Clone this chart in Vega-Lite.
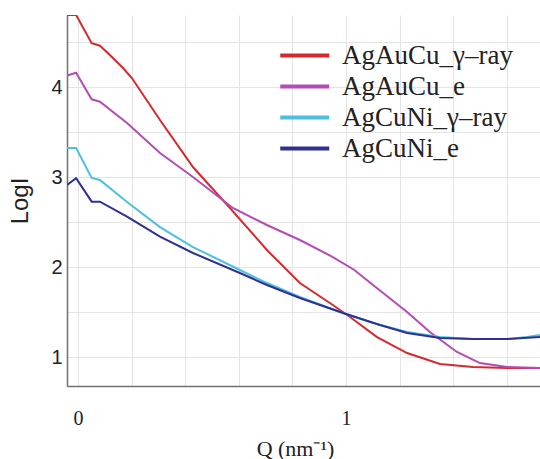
{
  "$schema": "https://vega.github.io/schema/vega-lite/v6.json",
  "width": 473,
  "height": 371,
  "autosize": "none",
  "padding": {"left": 67, "top": 15, "right": 0, "bottom": 73},
  "background": "white",
  "config": {
    "view": {"stroke": null},
    "axis": {"gridColor": "#e4e4e4", "gridWidth": 1, "domainColor": "#707070", "domainWidth": 1.5, "ticks": false, "labelColor": "#222", "titleColor": "#222", "labelOverlap": false, "labelFlush": false}
  },
  "data": {"values": [
    {"s": "AgAuCu_γ–ray", "q": -0.041, "v": 4.80},
    {"s": "AgAuCu_γ–ray", "q": -0.007, "v": 4.80},
    {"s": "AgAuCu_γ–ray", "q": 0.051, "v": 4.486},
    {"s": "AgAuCu_γ–ray", "q": 0.082, "v": 4.459},
    {"s": "AgAuCu_γ–ray", "q": 0.119, "v": 4.356},
    {"s": "AgAuCu_γ–ray", "q": 0.168, "v": 4.211},
    {"s": "AgAuCu_γ–ray", "q": 0.201, "v": 4.10},
    {"s": "AgAuCu_γ–ray", "q": 0.306, "v": 3.633},
    {"s": "AgAuCu_γ–ray", "q": 0.429, "v": 3.111},
    {"s": "AgAuCu_γ–ray", "q": 0.567, "v": 2.656},
    {"s": "AgAuCu_γ–ray", "q": 0.705, "v": 2.189},
    {"s": "AgAuCu_γ–ray", "q": 0.828, "v": 1.822},
    {"s": "AgAuCu_γ–ray", "q": 0.951, "v": 1.578},
    {"s": "AgAuCu_γ–ray", "q": 1.015, "v": 1.444},
    {"s": "AgAuCu_γ–ray", "q": 1.116, "v": 1.222},
    {"s": "AgAuCu_γ–ray", "q": 1.228, "v": 1.044},
    {"s": "AgAuCu_γ–ray", "q": 1.351, "v": 0.922},
    {"s": "AgAuCu_γ–ray", "q": 1.474, "v": 0.889},
    {"s": "AgAuCu_γ–ray", "q": 1.601, "v": 0.878},
    {"s": "AgAuCu_γ–ray", "q": 1.724, "v": 0.878},
    {"s": "AgAuCu_e", "q": -0.041, "v": 4.126},
    {"s": "AgAuCu_e", "q": -0.007, "v": 4.159},
    {"s": "AgAuCu_e", "q": 0.051, "v": 3.863},
    {"s": "AgAuCu_e", "q": 0.082, "v": 3.837},
    {"s": "AgAuCu_e", "q": 0.183, "v": 3.60},
    {"s": "AgAuCu_e", "q": 0.306, "v": 3.267},
    {"s": "AgAuCu_e", "q": 0.429, "v": 3.0},
    {"s": "AgAuCu_e", "q": 0.578, "v": 2.656},
    {"s": "AgAuCu_e", "q": 0.705, "v": 2.467},
    {"s": "AgAuCu_e", "q": 0.828, "v": 2.30},
    {"s": "AgAuCu_e", "q": 0.951, "v": 2.111},
    {"s": "AgAuCu_e", "q": 1.030, "v": 1.97},
    {"s": "AgAuCu_e", "q": 1.101, "v": 1.80},
    {"s": "AgAuCu_e", "q": 1.228, "v": 1.50},
    {"s": "AgAuCu_e", "q": 1.313, "v": 1.278},
    {"s": "AgAuCu_e", "q": 1.414, "v": 1.056},
    {"s": "AgAuCu_e", "q": 1.50, "v": 0.933},
    {"s": "AgAuCu_e", "q": 1.601, "v": 0.889},
    {"s": "AgAuCu_e", "q": 1.724, "v": 0.878},
    {"s": "AgCuNi_γ–ray", "q": -0.041, "v": 3.322},
    {"s": "AgCuNi_γ–ray", "q": -0.007, "v": 3.322},
    {"s": "AgCuNi_γ–ray", "q": 0.051, "v": 2.989},
    {"s": "AgCuNi_γ–ray", "q": 0.082, "v": 2.967},
    {"s": "AgCuNi_γ–ray", "q": 0.183, "v": 2.722},
    {"s": "AgCuNi_γ–ray", "q": 0.306, "v": 2.444},
    {"s": "AgCuNi_γ–ray", "q": 0.429, "v": 2.222},
    {"s": "AgCuNi_γ–ray", "q": 0.604, "v": 1.967},
    {"s": "AgCuNi_γ–ray", "q": 0.705, "v": 1.822},
    {"s": "AgCuNi_γ–ray", "q": 0.828, "v": 1.667},
    {"s": "AgCuNi_γ–ray", "q": 0.989, "v": 1.489},
    {"s": "AgCuNi_γ–ray", "q": 1.101, "v": 1.378},
    {"s": "AgCuNi_γ–ray", "q": 1.228, "v": 1.278},
    {"s": "AgCuNi_γ–ray", "q": 1.351, "v": 1.222},
    {"s": "AgCuNi_γ–ray", "q": 1.474, "v": 1.20},
    {"s": "AgCuNi_γ–ray", "q": 1.601, "v": 1.20},
    {"s": "AgCuNi_γ–ray", "q": 1.675, "v": 1.222},
    {"s": "AgCuNi_γ–ray", "q": 1.724, "v": 1.244},
    {"s": "AgCuNi_e", "q": -0.041, "v": 2.911},
    {"s": "AgCuNi_e", "q": -0.007, "v": 2.986},
    {"s": "AgCuNi_e", "q": 0.051, "v": 2.726},
    {"s": "AgCuNi_e", "q": 0.082, "v": 2.726},
    {"s": "AgCuNi_e", "q": 0.183, "v": 2.559},
    {"s": "AgCuNi_e", "q": 0.306, "v": 2.337},
    {"s": "AgCuNi_e", "q": 0.429, "v": 2.156},
    {"s": "AgCuNi_e", "q": 0.604, "v": 1.933},
    {"s": "AgCuNi_e", "q": 0.705, "v": 1.80},
    {"s": "AgCuNi_e", "q": 0.828, "v": 1.656},
    {"s": "AgCuNi_e", "q": 0.989, "v": 1.489},
    {"s": "AgCuNi_e", "q": 1.127, "v": 1.356},
    {"s": "AgCuNi_e", "q": 1.228, "v": 1.267},
    {"s": "AgCuNi_e", "q": 1.351, "v": 1.211},
    {"s": "AgCuNi_e", "q": 1.474, "v": 1.20},
    {"s": "AgCuNi_e", "q": 1.601, "v": 1.20},
    {"s": "AgCuNi_e", "q": 1.724, "v": 1.222}
  ]},
  "mark": {"type": "line", "strokeWidth": 2, "clip": true},
  "encoding": {
    "x": {
      "field": "q", "type": "quantitative",
      "scale": {"domain": [-0.041, 1.724], "nice": false, "zero": false},
      "axis": {
        "values": [0, 0.2, 0.4, 0.6, 0.8, 1, 1.2, 1.4, 1.6],
        "format": "~g",
        "labelExpr": "datum.value == 0 || datum.value == 1 ? datum.label : ''",
        "labelFont": "Liberation Serif", "labelFontSize": 20, "labelPadding": 22,
        "title": "Q (nm⁻¹)", "titleFont": "Liberation Serif", "titleFontSize": 22, "titleFontWeight": "normal",
        "titlePadding": 10, "titleX": 228
      }
    },
    "y": {
      "field": "v", "type": "quantitative",
      "scale": {"domain": [0.678, 4.8], "nice": false, "zero": false},
      "axis": {
        "values": [1, 1.5, 2, 2.5, 3, 3.5, 4, 4.5],
        "format": "~g",
        "labelExpr": "datum.value == 1 || datum.value == 2 || datum.value == 3 || datum.value == 4 ? datum.label : ''",
        "labelFont": "Liberation Sans", "labelFontSize": 20, "labelPadding": 5,
        "title": "LogI", "titleFont": "Liberation Sans", "titleFontSize": 24, "titleFontWeight": "normal",
        "titlePadding": 18
      }
    },
    "color": {
      "field": "s", "type": "nominal",
      "scale": {
        "domain": ["AgAuCu_γ–ray", "AgAuCu_e", "AgCuNi_γ–ray", "AgCuNi_e"],
        "range": ["#d42a2e", "#b44cb6", "#4cc0dc", "#2e3192"]
      },
      "legend": {
        "title": null, "orient": "none", "legendX": 211, "legendY": 26, "padding": 0,
        "symbolType": "M-1,0H3", "symbolSize": 600, "symbolStrokeWidth": 4,
        "labelFont": "Liberation Serif", "labelFontSize": 27, "labelColor": "#222", "labelOffset": 35,
        "rowPadding": 3, "labelLimit": 300
      }
    }
  }
}
